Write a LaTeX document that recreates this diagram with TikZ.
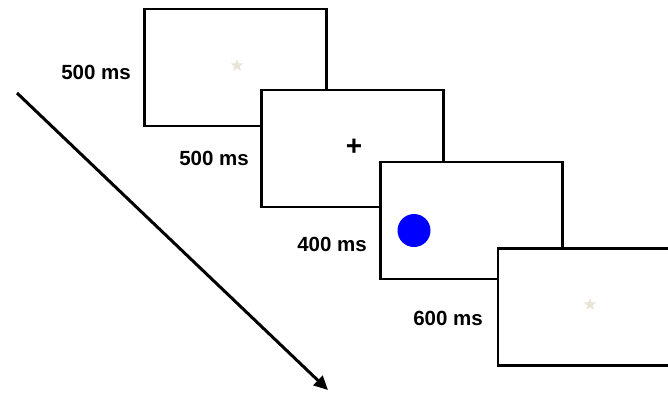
\documentclass[tikz,border=0pt]{standalone}
\usepackage{fontspec}
\setmainfont{Liberation Sans}
\usetikzlibrary{arrows.meta,shapes.geometric}
\definecolor{starcol}{RGB}{232,229,214}
\definecolor{dotblue}{RGB}{0,0,255}
\tikzset{
	frame/.style={draw=black, fill=white, line width=2.5pt, minimum width=182pt, minimum height=117pt, inner sep=0pt},
	dur/.style={anchor=east, inner sep=0pt, font=\fontsize{20.5}{24}\selectfont\bfseries},
	pale/.style={star, star points=5, star point ratio=2.4, fill=starcol, minimum size=13pt, inner sep=0pt},
}

\begin{document}
\begin{tikzpicture}[x=1pt, y=-1pt]
			%%%%% START %%%%%
			\useasboundingbox (0, 0) rectangle (668, 394);
			\clip (0, 0) rectangle (668, 394);
			
			% time arrow
			\coordinate (t0) at (17, 93);
			\coordinate (t1) at (328, 390);
			\draw[line width=3pt, -{Triangle[length=14pt, width=13pt]}] (t0) -- (t1);
			
			% screens
			\node[frame] (s1) at (235.5, 67.5) {};
			\node[pale] (st1) at (237, 65.5) {};
			
			\node[frame] (s2) at (352.5, 148.5) {};
			\node[inner sep=0pt, font=\fontsize{28}{28}\selectfont\bfseries] (fix) at (354, 147) {+};
			
			\node[frame] (s3) at (471.5, 220.5) {};
			\node[circle, fill=dotblue, minimum size=33pt, inner sep=0pt] (dot) at (414, 230.5) {};
			
			\node[frame] (s4) at (589, 307) {};
			\node[pale] (st4) at (590, 304.5) {};
			
			% durations
			\node[dur] (d1) at (131, 72) {500 ms};
			\node[dur] (d2) at (249, 158) {500 ms};
			\node[dur] (d3) at (367, 244.5) {400 ms};
			\node[dur] (d4) at (483, 318) {600 ms};
			%%%%% END %%%%%
		\end{tikzpicture}
\end{document}
